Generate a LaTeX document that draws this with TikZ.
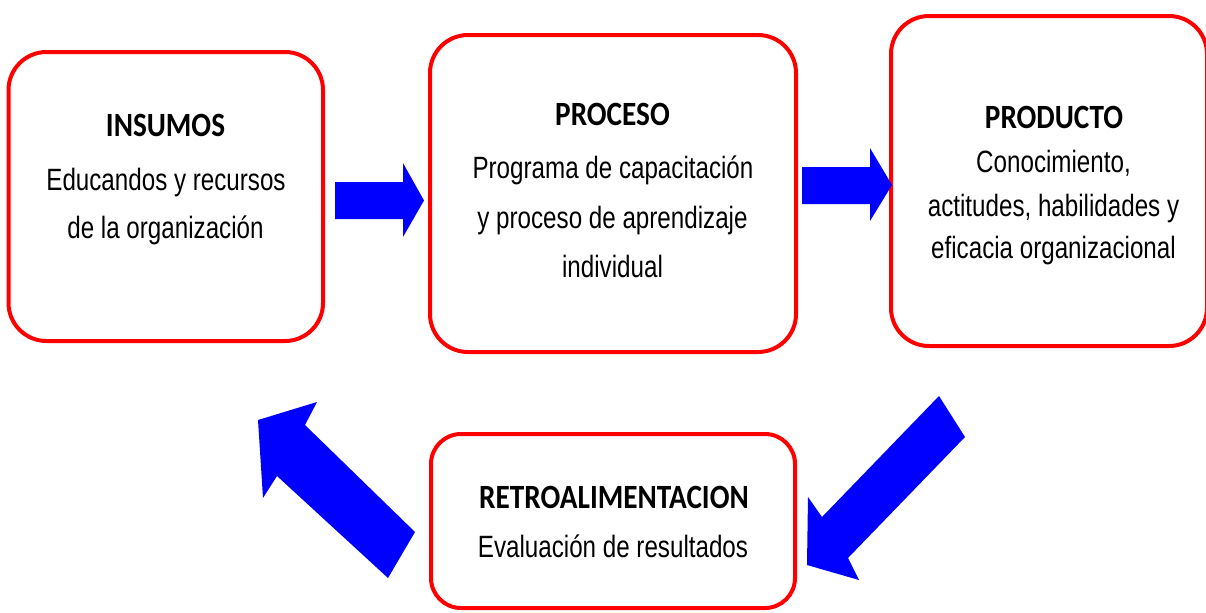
\documentclass[tikz,border=0pt]{standalone}
\usepackage{fontspec}
\newfontfamily\bodyfont[FakeStretch=0.785]{Liberation Sans}
\newfontfamily\titlefont[FakeStretch=0.86]{Carlito}
\definecolor{boxred}{RGB}{255,0,0}
\definecolor{arrowblue}{RGB}{0,0,255}
\begin{document}
\begin{tikzpicture}[x=0.5pt,y=-0.5pt,
  box/.style={draw=boxred, line width=2pt, rounded corners=19pt, inner sep=0pt},
  bigarrow/.style={fill=arrowblue, draw=none},
  ttl/.style={anchor=base, inner sep=0pt, font=\titlefont\bfseries\fontsize{17}{20}\selectfont},
  txt/.style={anchor=base, inner sep=0pt, font=\bodyfont\fontsize{15.4}{18}\selectfont}]
\useasboundingbox (0,0) rectangle (1206,612);
% boxes
\node[box, minimum width=157.25pt, minimum height=144.5pt] (insumos) at (165.75,196.5) {};
\node[box, minimum width=183pt, minimum height=158.5pt] (proceso) at (613,193.5) {};
\node[box, minimum width=158pt, minimum height=165pt] (producto) at (1049,181) {};
\node[box, rounded corners=15pt, minimum width=182pt, minimum height=87pt] (retro) at (613,521) {};
% texts
\node[ttl] (insT) at (165.5,136) {INSUMOS};
\node[txt] (insA) at (166,190) {Educandos y recursos};
\node[txt] (insB) at (165.5,238) {de la organización};
\node[ttl] (proT) at (612.5,125) {PROCESO};
\node[txt] (proA) at (613,178) {Programa de capacitación};
\node[txt] (proB) at (612.5,228) {y proceso de aprendizaje};
\node[txt] (proC) at (612.5,277) {individual};
\node[ttl] (prdT) at (1054,128) {PRODUCTO};
\node[txt] (prdA) at (1053.5,172) {Conocimiento,};
\node[txt] (prdB) at (1053.5,216) {actitudes, habilidades y};
\node[txt] (prdC) at (1053.5,258) {eficacia organizacional};
\node[ttl] (retT) at (614,508) {RETROALIMENTACION};
\node[txt] (retA) at (613,557) {Evaluación de resultados};
% block arrows
\fill[bigarrow] (335,182) -- (403,182) -- (403,163) -- (424,200.5) -- (403,237) -- (403,219) -- (335,219) -- cycle;
\fill[bigarrow] (802,167) -- (870,167) -- (870,148) -- (892,185) -- (870,221) -- (870,204) -- (802,204) -- cycle;
\fill[bigarrow] (939,396) -- (965,437) -- (848,558) -- (859,580) -- (807,565) -- (808,497) -- (822,517) -- cycle;
\fill[bigarrow] (258,420) -- (317,402) -- (305,425) -- (415,532) -- (388,578) -- (277,476) -- (263,498) -- cycle;
\end{tikzpicture}
\end{document}
